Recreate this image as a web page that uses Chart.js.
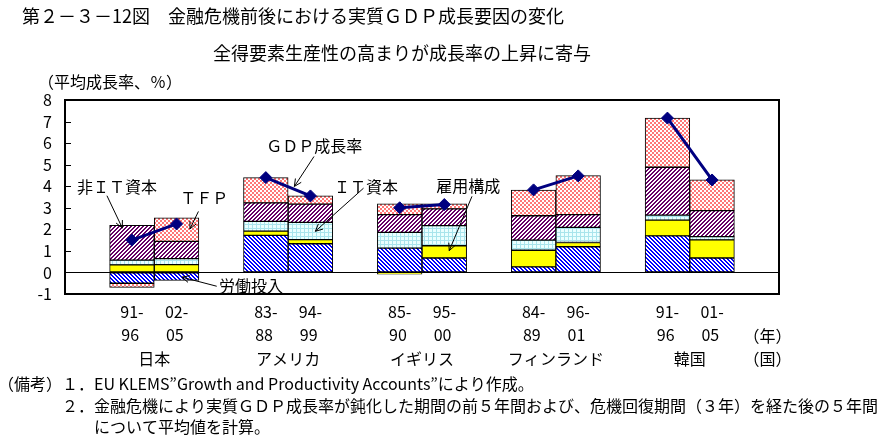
<!DOCTYPE html>
<html><head><meta charset="utf-8">
<script src="https://cdn.jsdelivr.net/npm/chart.js@4"></script>
<style>html,body{margin:0;padding:0;background:#fff;}#wrap{width:882px;height:442px;position:relative;}</style>
</head><body><div id="wrap"><canvas id="c" width="882" height="442"></canvas></div>
<script>
// ---- data ----
const periods = [['91-','96 '],['02-','05 '],['83-','88 '],['94-','99 '],['85-','90 '],['95-','00 '],['84-','89 '],['96-','01 '],['91-','96 '],['01-','05 ']];
const countries = ['日本','アメリカ','イギリス','フィンランド','韓国'];
const labor      = [-0.50, -0.37, 1.72, 1.33, 1.13, 0.67, 0.26, 1.19, 1.70, 0.67];
const employment = [ 0.35,  0.36, 0.20, 0.19,-0.08, 0.57, 0.77, 0.20, 0.73, 0.84];
const itCapital  = [ 0.22,  0.28, 0.45, 0.80, 0.73, 0.93, 0.47, 0.70, 0.23, 0.15];
const nonIT      = [ 1.61,  0.80, 0.86, 0.85, 0.82, 0.78, 1.13, 0.59, 2.22, 1.21];
const tfp        = [-0.19,  1.09, 1.17, 0.39, 0.50, 0.23, 1.19, 1.81, 2.28, 1.43];
const gdp        = [ 1.50,  2.25, 4.40, 3.55, 3.00, 3.15, 3.83, 4.48, 7.16, 4.29];
const yTicks = [-1,0,1,2,3,4,5,6,7,8];

// ---- layout helpers ----
const FONT = "'Noto Sans CJK JP', sans-serif";
const N_SLOTS = 16;
const slotOf = i => Math.floor(i/2)*3 + 1 + (i%2);
const toSlots = arr => { const o = new Array(N_SLOTS).fill(null); arr.forEach((v,i)=>o[slotOf(i)]=v); return o; };
const slotLabels = new Array(N_SLOTS).fill(''); periods.forEach((p,i)=>slotLabels[slotOf(i)]=p);

function pixPattern(size, fn){
  const c=document.createElement('canvas'); c.width=c.height=size;
  const g=c.getContext('2d');
  for(let y=0;y<size;y++)for(let x=0;x<size;x++){g.fillStyle=fn(x,y);g.fillRect(x,y,1,1);}
  return g.createPattern(c,'repeat');
}
const patLabor = pixPattern(4,(x,y)=>((x-y+8)%4<2)?'#0000ff':'#ffffff');
const patNonIT = pixPattern(4,(x,y)=>((x+y)%4<2)?'#660066':'#ffffff');
const patTFP   = pixPattern(4,(x,y)=>((Math.floor(x/2)+Math.floor(y/2))%2===0)?'#ff7777':'#ffffff');
const patIT    = pixPattern(4,(x,y)=>(x===0||y===0)?'#a8e4ec':'#eaffff');

const notes = [
  {text:'非ＩＴ資本', tx:-0.23, ty:3.98, from:[0.44,3.56], to:[0.785,2.06]},
  {text:'ＴＦＰ',     tx:2.08,  ty:3.47, from:[2.49,2.83], to:[2.30,2.02]},
  {text:'ＧＤＰ成長率', tx:4.01, ty:5.88, from:[5.08,5.38], to:[4.64,3.99]},
  {text:'ＩＴ資本',   tx:5.53,  ty:3.96, from:[6.19,3.91], to:[5.11,1.91]},
  {text:'雇用構成',   tx:7.82,  ty:4.00, from:[8.62,3.53], to:[8.11,1.01]},
  {text:'労働投入',   tx:2.95,  ty:-0.63, from:[2.90,-0.64], to:[2.12,-0.22]}
];

const extras = {
  id:'extras',
  afterDatasetsDraw(chart){
    const {ctx, scales:{x,y}} = chart;
    ctx.save();
    ctx.font = '16px '+FONT; ctx.fillStyle='#000'; ctx.textBaseline='middle'; ctx.textAlign='left';
    ctx.strokeStyle='#000'; ctx.lineWidth=1;
    notes.forEach(n=>{
      ctx.fillText(n.text, x.getPixelForValue(n.tx), y.getPixelForValue(n.ty));
      const x1=x.getPixelForValue(n.from[0]), y1=y.getPixelForValue(n.from[1]);
      const x2=x.getPixelForValue(n.to[0]), y2=y.getPixelForValue(n.to[1]);
      ctx.beginPath(); ctx.moveTo(x1,y1); ctx.lineTo(x2,y2); ctx.stroke();
      const ang=Math.atan2(y2-y1,x2-x1), L=8, W=0.45;
      ctx.beginPath();
      ctx.moveTo(x2-L*Math.cos(ang-W), y2-L*Math.sin(ang-W));
      ctx.lineTo(x2,y2);
      ctx.lineTo(x2-L*Math.cos(ang+W), y2-L*Math.sin(ang+W));
      ctx.stroke();
    });
    ctx.restore();
  },
  afterDraw(chart){
    const {ctx, chartArea:a, scales:{x,y}} = chart;
    ctx.save();
    ctx.strokeStyle='#000'; ctx.lineWidth=2;
    ctx.strokeRect(a.left, a.top, a.right-a.left, a.bottom-a.top);
    ctx.lineWidth=1;
    y.ticks.forEach(t=>{const py=Math.round(y.getPixelForValue(t.value))+0.5; ctx.beginPath(); ctx.moveTo(a.left,py); ctx.lineTo(a.left+6,py); ctx.stroke();});
    ctx.fillStyle='#000'; ctx.textBaseline='middle';
    // country names
    ctx.font='16px '+FONT; ctx.textAlign='center';
    countries.forEach((c,i)=>ctx.fillText(c, x.getPixelForValue(i*3+1.5), 359));
    ctx.fillText('（年）', x.getPixelForValue(15.24), 336);
    ctx.fillText('（国）', x.getPixelForValue(15.24), 359);
    // titles
    ctx.textAlign='left';
    ctx.font='18px '+FONT;
    ctx.fillText('第２－３－12図　金融危機前後における実質ＧＤＰ成長要因の変化', 22, 16);
    ctx.fillText('全得要素生産性の高まりが成長率の上昇に寄与', 213, 53);
    ctx.font='16px '+FONT;
    ctx.fillText('（平均成長率、％）', 38, 82);
    ctx.fillText('（備考）', -2, 384);
    ctx.fillText('１．EU KLEMS”Growth and Productivity Accounts”により作成。', 62, 384);
    ctx.fillText('２．金融危機により実質ＧＤＰ成長率が鈍化した期間の前５年間および、危機回復期間（３年）を経た後の５年間', 62, 406);
    ctx.fillText('について平均値を計算。', 94, 427);
    ctx.restore();
  }
};

const barDs = (label, arr, bg) => ({type:'bar', label, data:toSlots(arr), backgroundColor:bg, borderColor:'#000', borderWidth:1, borderSkipped:false, barPercentage:1, categoryPercentage:1, order:1});

new Chart(document.getElementById('c'), {
  type:'bar',
  data:{
    labels: slotLabels,
    datasets:[
      {type:'line', label:'ＧＤＰ成長率', data:toSlots(gdp), borderColor:'#000080', borderWidth:3, pointStyle:'rectRot', pointRadius:6, pointBackgroundColor:'#000080', pointBorderColor:'#000080', pointBorderWidth:1, spanGaps:false, order:0},
      barDs('労働投入', labor, patLabor),
      barDs('雇用構成', employment, '#ffff00'),
      barDs('ＩＴ資本', itCapital, patIT),
      barDs('非ＩＴ資本', nonIT, patNonIT),
      barDs('ＴＦＰ', tfp, patTFP)
    ]
  },
  options:{
    responsive:false, animation:false, devicePixelRatio:1,
    layout:{padding:{left:0, top:100, right:103, bottom:78}},
    plugins:{legend:{display:false}, tooltip:{enabled:false}, title:{display:false}},
    scales:{
      x:{stacked:true, grid:{display:false, drawTicks:false}, border:{display:false},
         ticks:{font:{family:FONT,size:16,lineHeight:1.44}, color:'#000', padding:6, autoSkip:false, maxRotation:0, minRotation:0},
         afterFit(s){s.height=70;}},
      y:{stacked:true, min:-1, max:8,
         afterBuildTicks(s){s.ticks=yTicks.map(v=>({value:v}));},
         ticks:{font:{family:FONT,size:16}, color:'#000', padding:13, autoSkip:false},
         grid:{drawTicks:false, lineWidth:1, color:c=>(c.tick && c.tick.value===0)?'#000':'rgba(0,0,0,0)'},
         border:{display:false},
         afterFit(s){s.width=65;}}
    }
  },
  plugins:[extras]
});
</script></body></html>
